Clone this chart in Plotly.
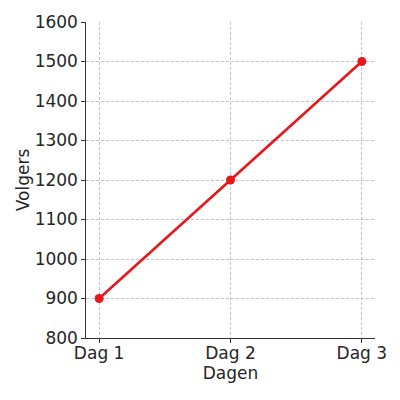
import plotly.graph_objects as go

days = ["Dag 1", "Dag 2", "Dag 3"]
followers = [900, 1200, 1500]
y_ticks = [800, 900, 1000, 1100, 1200, 1300, 1400, 1500, 1600]

fig = go.Figure()
fig.add_trace(go.Scatter(
    x=[0, 1, 2], y=followers, mode="lines+markers",
    line=dict(color="#e8171a", width=2.6),
    marker=dict(color="#e8171a", size=9),
))

axis_common = dict(
    showline=True, linecolor="#333333", linewidth=1.3,
    showgrid=True, gridcolor="#c4c4c4", griddash="3px,2px", gridwidth=0.8,
    ticks="outside", ticklen=3.5, tickcolor="#333333", tickwidth=1.2,
    tickfont=dict(family="DejaVu Sans", size=17, color="#262626"),
    zeroline=False, mirror=False, automargin=False,
)

fig.update_layout(
    width=400, height=400,
    margin=dict(l=78, r=33, t=14, b=70),
    paper_bgcolor="white", plot_bgcolor="white",
    showlegend=False,
    font=dict(family="DejaVu Sans", size=17, color="#262626"),
    xaxis=dict(
        **axis_common,
        tickmode="array", tickvals=[0, 1, 2], ticktext=days,
        range=[-0.1, 2.1], ticklabelstandoff=-4,
        title=dict(text="Dagen", font=dict(size=17), standoff=2),
    ),
    yaxis=dict(
        **axis_common,
        tickmode="array", tickvals=y_ticks,
        range=[800, 1600],
        title=dict(text="Volgers", font=dict(size=17), standoff=0),
    ),
)

fig.write_html("out.html")
